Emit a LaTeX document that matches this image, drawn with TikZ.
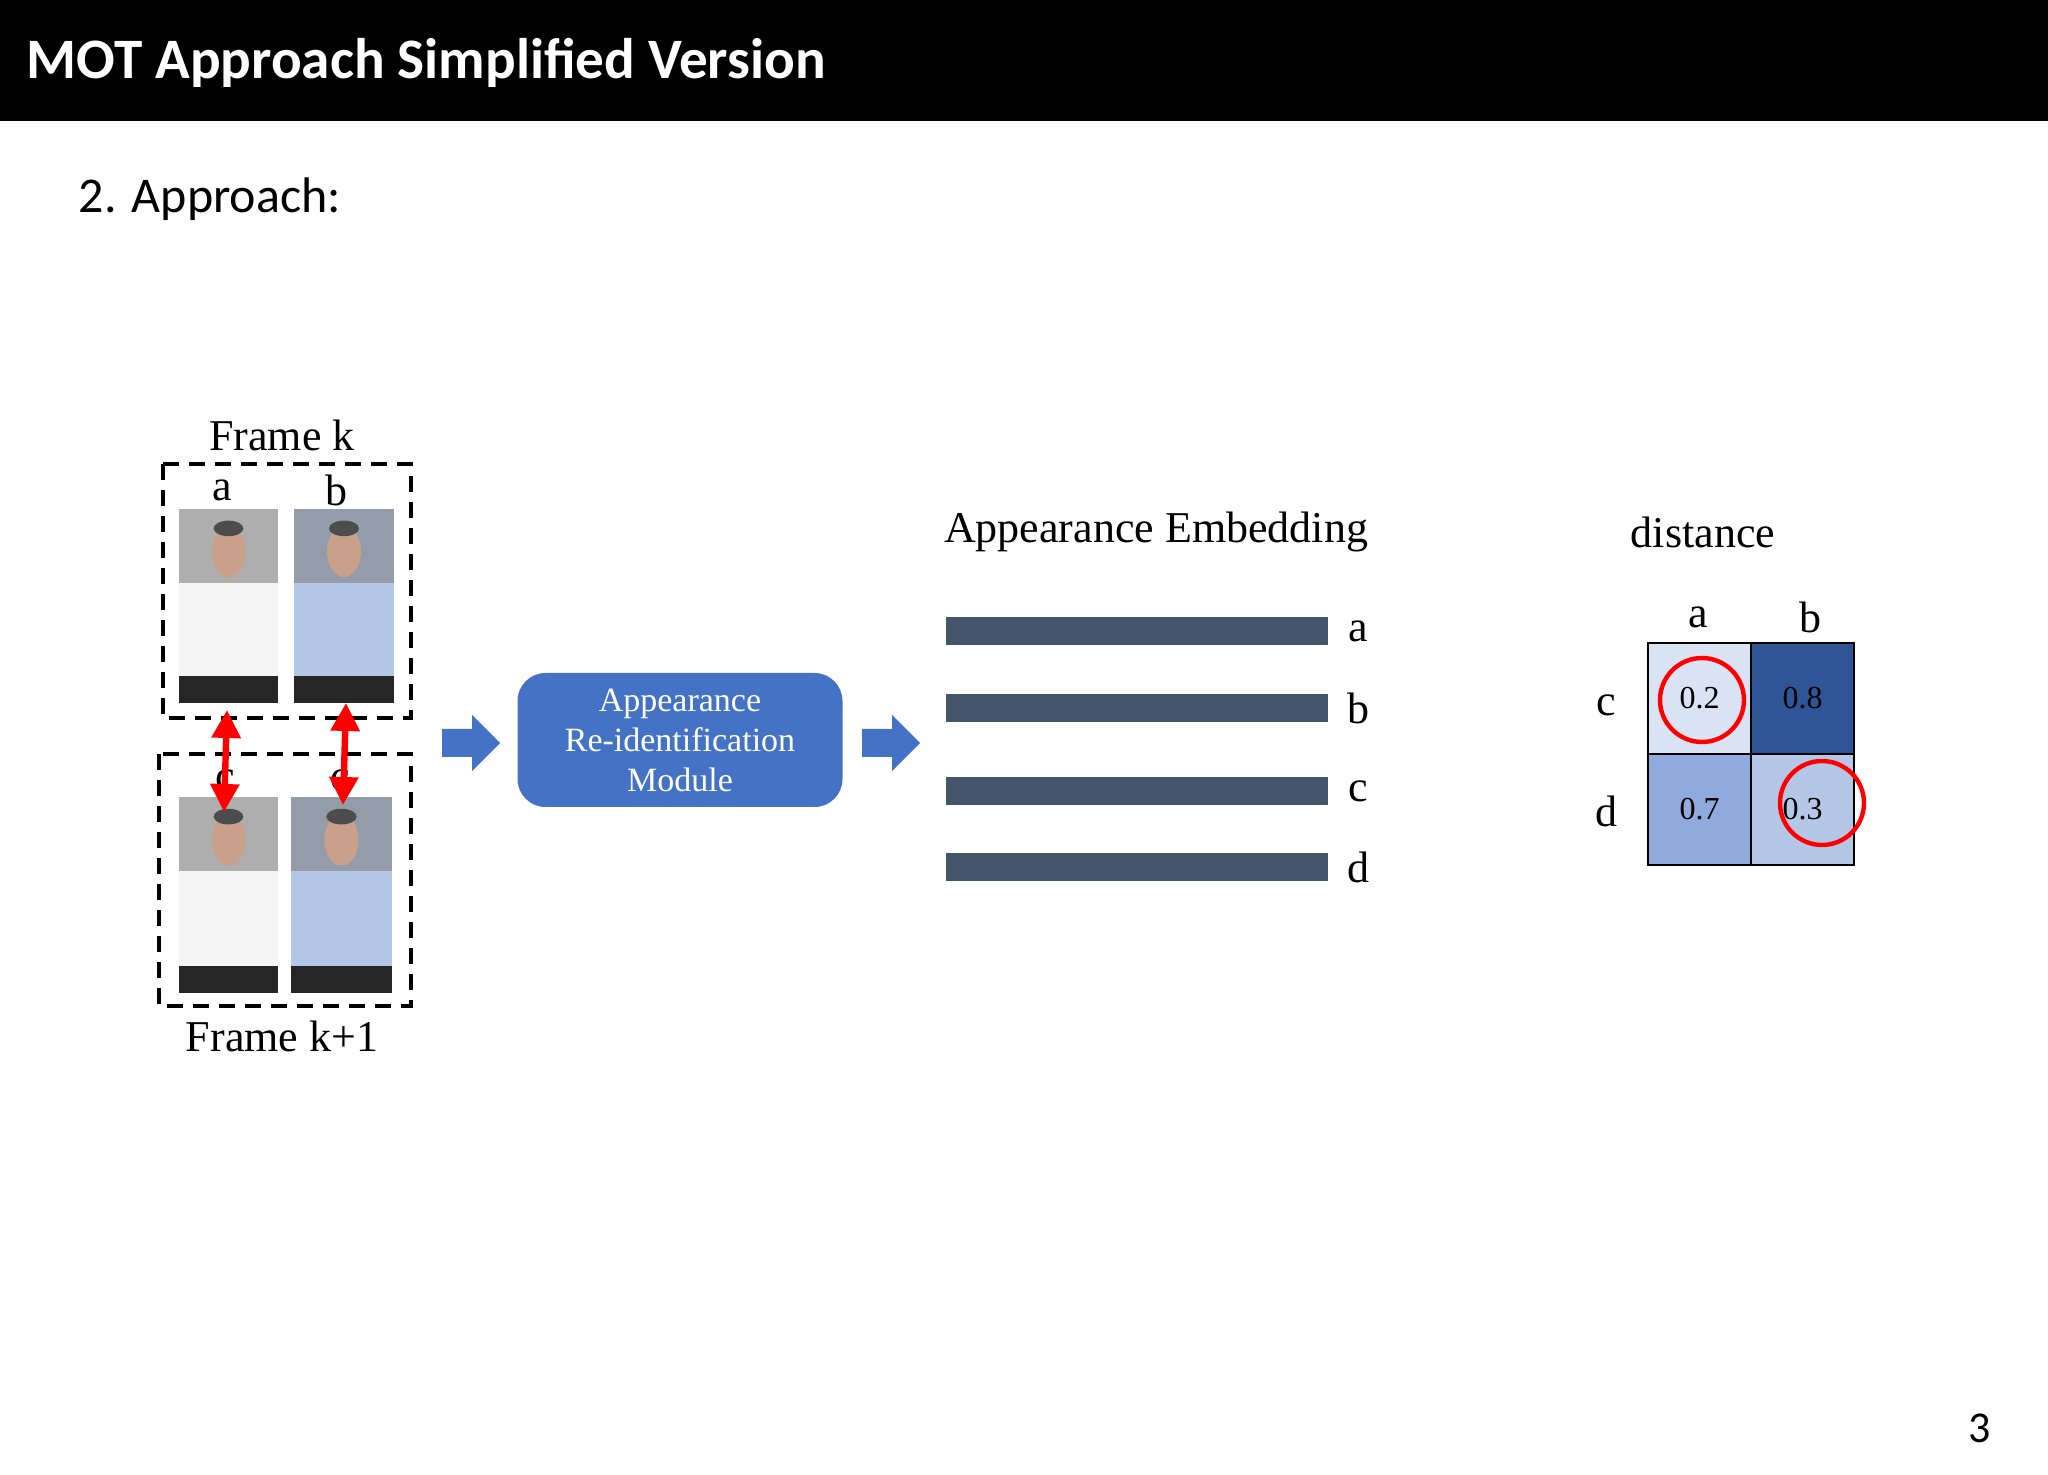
\documentclass[tikz,border=0pt]{standalone}
\usepackage{fontspec}
\setmainfont{Liberation Serif}
\newfontfamily\calib{Carlito}
\usetikzlibrary{arrows.meta}
\definecolor{accblue}{HTML}{4472C4}
\definecolor{barcol}{HTML}{44546A}
\definecolor{cA}{HTML}{DAE3F3}
\definecolor{cB}{HTML}{2F5597}
\definecolor{cC}{HTML}{8FAADC}
\definecolor{cD}{HTML}{B4C7E7}
\definecolor{skin}{HTML}{C9A08A}
\tikzset{
 lbl/.style={font=\fontsize{11}{13}\selectfont, inner sep=0pt},
 dbox/.style={draw=black, line width=1.1pt, dash pattern=on 4pt off 2.5pt},
 bar/.style={fill=barcol, draw=none},
 blockfill/.style={fill=accblue, draw=none},
 redarr/.style={red, line width=1.6pt, {Triangle[length=7pt,width=7pt]}-{Triangle[length=7pt,width=7pt]}},
 cell/.style={draw=black, line width=0.6pt, minimum width=25.75pt, minimum height=27.75pt, inner sep=0pt, font=\fontsize{8}{10}\selectfont},
 ring/.style={draw=red, line width=1.1pt, circle, minimum size=21pt, inner sep=0pt}
}
\newcommand{\person}[5]{%
 \fill[#5!40!gray] (#1,#2) rectangle (#3,#4);
 \fill[#5] ({#1},{#2+0.38*(#4-#2)}) rectangle ({#3},{#2+0.86*(#4-#2)});
 \fill[black!85] ({#1},{#2+0.86*(#4-#2)}) rectangle ({#3},{#4});
 \fill[skin] ({(#1+#3)/2},{#2+0.22*(#4-#2)}) ellipse [x radius={0.17*(#3-#1)}, y radius={0.13*(#4-#2)}];
 \fill[black!70] ({(#1+#3)/2},{#2+0.1*(#4-#2)}) ellipse [x radius={0.15*(#3-#1)}, y radius={0.04*(#4-#2)}];
}
\newcommand{\blockarrow}[2]{% left x, center y
 \fill[blockfill] (#1,#2-14) -- (#1+30,#2-14) -- (#1+30,#2-28) -- (#1+58,#2) -- (#1+30,#2+28) -- (#1+30,#2+14) -- (#1,#2+14) -- cycle;
}
\begin{document}
\begin{tikzpicture}[x=0.25pt,y=-0.25pt]
\useasboundingbox (0,0) rectangle (2048,1475);
\fill[white] (0,0) rectangle (2048,1475);
\fill[black] (0,0) rectangle (2048,121);
\node[anchor=west, text=white, font=\calib\bfseries\fontsize{14.3}{17}\selectfont, inner sep=0pt] (title) at (26,63) {MOT Approach Simplified Version};
\node[anchor=west, font=\calib\fontsize{12.5}{15}\selectfont, inner sep=0pt] (sub) at (78,199) {2. Approach:};

\node[lbl] (fk) at (282,435) {Frame k};
\draw[dbox] (163,464) rectangle (411,718);
\node[lbl] (la) at (222,490) {a};
\node[lbl] (lb) at (336,490) {b};
\person{179}{509}{278}{703}{white!92!gray}
\person{294}{509}{394}{703}{cD}
\draw[dbox] (159,754) rectangle (411,1006);
\node[lbl] (lc1) at (225,780) {c};
\node[lbl] (lc2) at (340,780) {c};
\person{179}{797}{278}{993}{white!92!gray}
\person{291}{797}{392}{993}{cD}
\node[lbl] (fk1) at (282,1036) {Frame k+1};
\coordinate (r1a) at (227,710); \coordinate (r1b) at (224,812);
\coordinate (r2a) at (346,703); \coordinate (r2b) at (343,805);
\draw[redarr] (r1a) -- (r1b);
\draw[redarr] (r2a) -- (r2b);

\blockarrow{442}{743}
\node[draw=none, fill=accblue, rounded corners=7pt, minimum width=81.25pt, minimum height=33.5pt, text=white, align=center, font=\fontsize{8.5}{10}\selectfont, inner sep=0pt] (mod) at (680,740) {Appearance\\Re-identification\\Module};
\blockarrow{862}{743}

\node[lbl] (emb) at (1156,532) {Appearance Embedding};
\foreach \yy/\t in {631/a,708/b,791/c,867/d}{
 \fill[bar] (946,\yy-14) rectangle (1328,\yy+14);
 \node[lbl] (e\t) at (1358,\yy) {\t};
}

\node[lbl] (dist) at (1703,532) {distance};
\node[lbl] (ma) at (1698,617) {a};
\node[lbl] (mb) at (1810,617) {b};
\node[lbl] (mc) at (1606,705) {c};
\node[lbl] (md) at (1606,811) {d};
\node[cell, fill=cA] (c11) at (1699.5,698.5) {0.2};
\node[cell, fill=cB] (c12) at (1802.5,698.5) {0.8};
\node[cell, fill=cC] (c21) at (1699.5,809.5) {0.7};
\node[cell, fill=cD] (c22) at (1802.5,809.5) {0.3};
\node[ring] (ring1) at (1702,700) {};
\node[ring] (ring2) at (1822,803) {};

\node[font=\calib\fontsize{11}{13}\selectfont, inner sep=0pt] (pg) at (1980,1428) {3};
\end{tikzpicture}
\end{document}
